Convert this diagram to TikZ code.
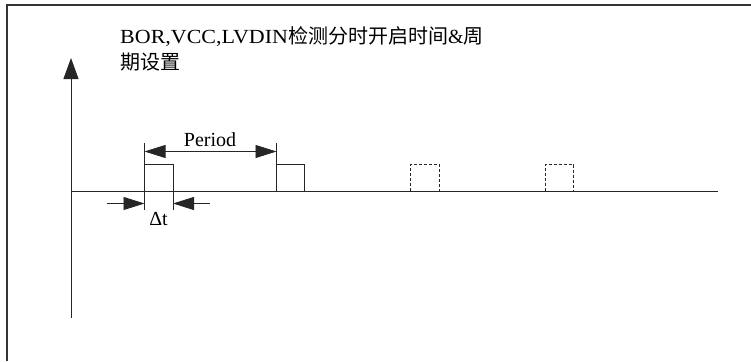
\documentclass[tikz,border=0pt]{standalone}
\usepackage{fontspec}
\setmainfont{Liberation Serif}
\newfontfamily\cjk{Noto Sans CJK SC}
\newfontfamily\widelat[FakeStretch=1.1]{Liberation Serif}
\usetikzlibrary{arrows.meta}
\begin{document}
\begin{tikzpicture}[x=1pt,y=-1pt,
  ln/.style={draw=black!85,line width=0.9pt},
  dsh/.style={draw=black!85,line width=0.9pt,dash pattern=on 3pt off 2pt},
  bigtip/.style={-{Triangle[length=21pt,width=15pt]}},
  dimtip/.style={-{Triangle[length=21pt,width=13pt]}},
  lbl/.style={inner sep=0pt,font=\fontsize{20}{24}\selectfont}]
\useasboundingbox (0,0) rectangle (751,361);
% frame
\draw[black!80,line width=2pt] (6.5,361) -- (6.5,5) -- (751,5);
% title
\node[lbl,anchor=base west] (t1) at (120,43.5) {{\widelat BOR,VCC,LVDIN}{\cjk 检测分时开启时间}\&{\cjk 周}};
\node[lbl,anchor=base west] (t2) at (120,70) {{\cjk 期设置}};
% axes
\coordinate (o) at (71,191);
\coordinate (ytop) at (71,58);
\coordinate (ybot) at (71,318);
\coordinate (xend) at (718,191);
\draw[ln] (ybot) -- (o);
\draw[ln,bigtip] (o) -- (ytop);
\draw[ln] (o) -- (xend);
% pulses
\draw[ln] (144.5,191) -- (144.5,164.5) -- (173,164.5) -- (173,191);
\draw[ln] (276.5,191) -- (276.5,164.5) -- (304.5,164.5) -- (304.5,191);
\draw[dsh] (410.5,191) -- (410.5,164.5) -- (439.5,164.5) -- (439.5,191);
\draw[dsh] (545,191) -- (545,164.5) -- (573.5,164.5) -- (573.5,191);
% period dimension
\coordinate (pa) at (144.5,151.5);
\coordinate (pb) at (276.5,151.5);
\draw[ln] (144.5,143) -- (144.5,164.5);
\draw[ln] (276.5,143) -- (276.5,164.5);
\draw[ln,dimtip] (210,151.5) -- (pa);
\draw[ln,dimtip] (210,151.5) -- (pb);
\node[lbl,anchor=base] (per) at (210,146.5) {Period};
% delta t
\coordinate (da) at (106.5,203.5);
\coordinate (db) at (144.5,203.5);
\coordinate (dc) at (210,203.5);
\coordinate (dd) at (173,203.5);
\draw[ln,dimtip] (da) -- (db);
\draw[ln,dimtip] (dc) -- (dd);
\draw[ln] (144.5,191) -- (144.5,210);
\draw[ln] (173,191) -- (173,210);
\node[lbl,anchor=base] (dt) at (158.5,225) {Δt};
\end{tikzpicture}
\end{document}
